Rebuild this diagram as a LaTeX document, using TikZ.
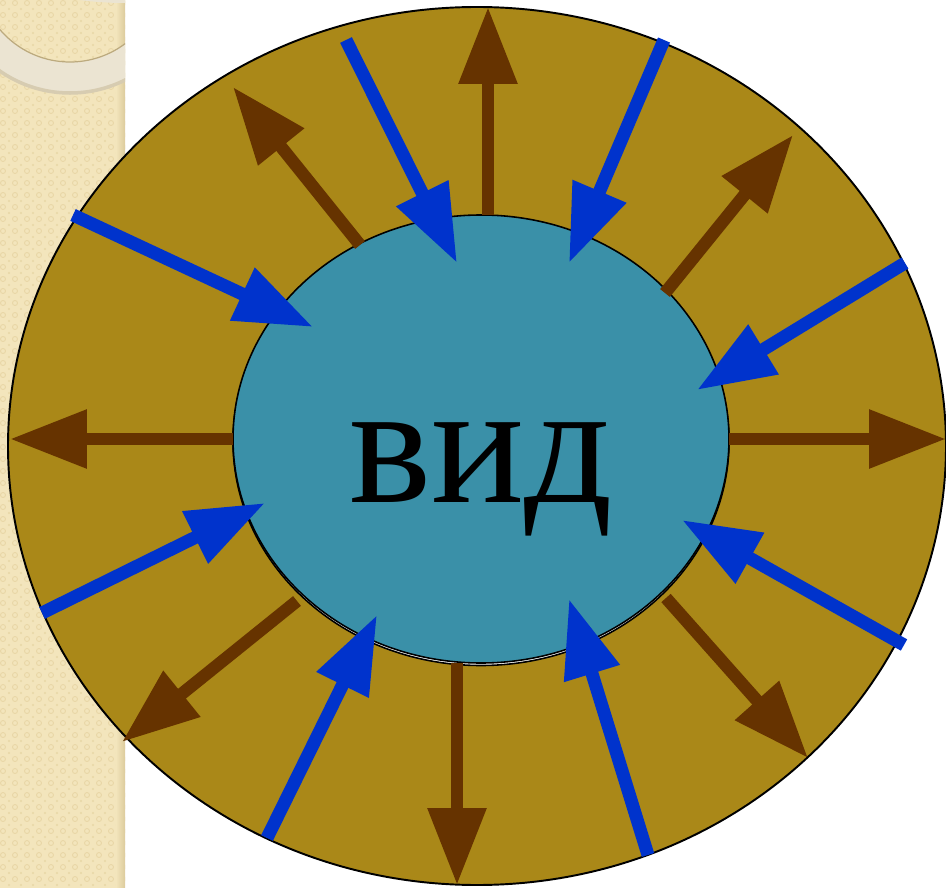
\documentclass[tikz,border=0pt]{standalone}
\usepackage{fontspec}
\setmainfont{Liberation Serif}
\usetikzlibrary{arrows.meta}
\definecolor{stripbeige}{HTML}{F3E5BC}
\definecolor{stripdot}{HTML}{E8D6A6}
\definecolor{stripedge}{HTML}{DCCB9C}
\definecolor{ringcream}{HTML}{EBE4D2}
\definecolor{ringedge}{HTML}{BCAA7E}
\definecolor{ringolive}{HTML}{AA8818}
\definecolor{coreteal}{HTML}{3A90A8}
\definecolor{arrowbrown}{HTML}{663300}
\definecolor{arrowblue}{HTML}{0033CC}
\tikzset{
  brownarrow/.style={draw=arrowbrown, line width=0.25cm, -{Triangle[length=1.54cm,width=1.12cm]}},
  bluearrow/.style={draw=arrowblue, line width=0.26cm, -{Triangle[length=1.56cm,width=1.1cm]}}
}
\begin{document}
\begin{tikzpicture}[x=0.02cm,y=-0.02cm]
            \useasboundingbox (0,0) rectangle (946,888);
            % left strip
            \fill[stripbeige] (0,0) rectangle (125,888);
            \begin{scope}
                \clip (0,0) rectangle (125,888);
                \foreach \i in {0,...,10}
                {
                    \foreach \j in {0,...,74}
                    {
                        \draw[stripdot, line width=0.5pt] (\i*12+3, \j*12+3) circle [radius=2.5];
                        \fill[stripdot] (\i*12+9, \j*12+9) circle [radius=1.2];
                    }
                }
                \fill[left color=stripbeige, right color=stripedge] (116,0) rectangle (125,888);
                \fill[ringcream, even odd rule] (70,-30) circle [radius=123] (70,-30) circle [radius=92];
                \draw[ringedge, line width=0.7pt] (70,-30) circle [radius=92];
                \draw[ringedge!60, line width=2pt] (70,-30) circle [radius=123];
                \fill[ringcream] (125,-336) circle [radius=339];
            \end{scope}
            % rings
            \draw[line width=1.1pt, fill=ringolive] (477,446) ellipse [x radius=469, y radius=439];
            \draw[line width=0.9pt, fill=white] (481,441.5) ellipse [x radius=248, y radius=224];
            \draw[line width=0.9pt, fill=coreteal] (481,439) ellipse [x radius=248, y radius=224];
            \foreach \xa/\ya/\xb/\yb in {488/215/488/7, 360/245/233/87, 665/293/793/135, 233/439/10/439,
                729/439/946/439, 297/601/122/742, 666/598/808/758, 457/663/457/885}
            {
                \draw[brownarrow] (\xa,\ya) -- (\xb,\yb);
            }
            \foreach \xa/\ya/\xb/\yb in {346/40/457/263, 664/40/569/263, 73/215/313/327, 905/263/697/390,
                42/613/265/503, 904/645/682/520, 267/838/377/615, 648/855/569/599}
            {
                \draw[bluearrow] (\xa,\ya) -- (\xb,\yb);
            }
            \node[font=\fontsize{99}{104}\selectfont, anchor=base, inner sep=0pt] (vid) at (481,502) {вид};
        \end{tikzpicture}
\end{document}
